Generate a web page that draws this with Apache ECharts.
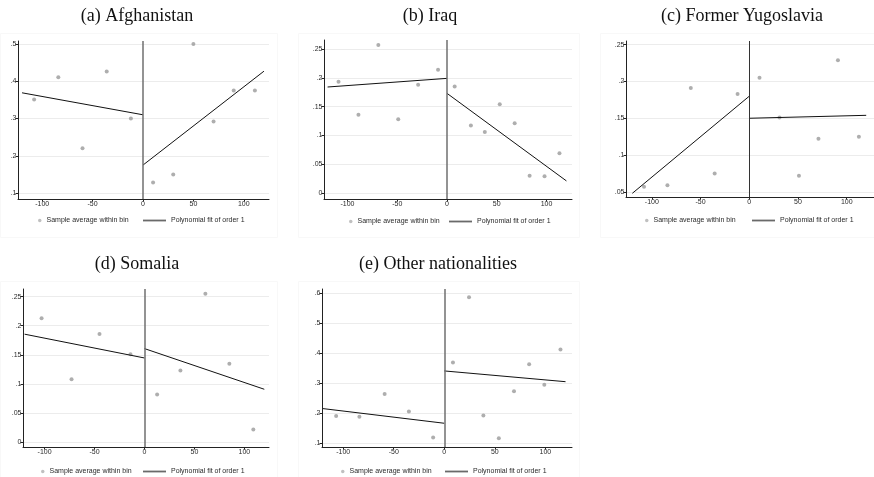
<!DOCTYPE html>
<html>
<head>
<meta charset="utf-8">
<script src="https://cdn.jsdelivr.net/npm/echarts@6/dist/echarts.min.js"></script>
<style>
html, body { margin: 0; padding: 0; background: #fff; }
#chart { width: 874px; height: 477px; }
</style>
</head>
<body>
<div id="chart"></div>
<script>
// ---- data ----
// bin midpoints (days from cutoff) and sample averages within each bin
const afghanX = [-108, -84, -60, -36, -12, 10, 30, 50, 70, 90, 111];
const afghanY = [0.351, 0.411, 0.220, 0.426, 0.300, 0.128, 0.150, 0.500, 0.292, 0.375, 0.375];
const iraqX = [-109, -89, -69, -49, -29, -9, 7.7, 24, 38, 53, 68, 83, 98, 113];
const iraqY = [0.193, 0.136, 0.257, 0.128, 0.188, 0.214, 0.185, 0.117, 0.106, 0.154, 0.121, 0.030, 0.029, 0.069];
const yugoX = [-108, -84, -60, -35.5, -12, 10.5, 31, 51, 71, 91, 112.5];
const yugoY = [0.057, 0.059, 0.191, 0.075, 0.183, 0.205, 0.151, 0.072, 0.122, 0.229, 0.125];
const somaliaX = [-103, -73, -45, -14, 12.7, 36, 61, 85, 109];
const somaliaY = [0.213, 0.108, 0.186, 0.151, 0.082, 0.123, 0.255, 0.135, 0.022];
const otherX = [-107, -84, -59, -35, -11, 8.6, 24.5, 38.7, 54, 69, 84, 99, 115];
const otherY = [0.190, 0.188, 0.264, 0.205, 0.118, 0.369, 0.587, 0.192, 0.116, 0.273, 0.363, 0.295, 0.413];

// linear fits: value at the ends of each side
const fitLeftX = [-120, 0];
const fitRightX = [0, 120];
const afghanFitL = [0.369, 0.310];
const afghanFitR = [0.175, 0.427];
const iraqFitL = [0.184, 0.199];
const iraqFitR = [0.173, 0.021];
const yugoFitL = [0.048, 0.180];
const yugoFitR = [0.150, 0.154];
const somaliaFitL = [0.1855, 0.1447];
const somaliaFitR = [0.1608, 0.091];
const otherFitL = [0.215, 0.166];
const otherFitR = [0.341, 0.305];

// ticks
const xTicks = [-100, -50, 0, 50, 100];
const yTicksAfghan = [0.1, 0.2, 0.3, 0.4, 0.5];
const yTicksIraq = [0, 0.05, 0.1, 0.15, 0.2, 0.25];
const yTicksYugo = [0.05, 0.1, 0.15, 0.2, 0.25];
const yTicksSomalia = [0, 0.05, 0.1, 0.15, 0.2, 0.25];
const yTicksOther = [0.1, 0.2, 0.3, 0.4, 0.5, 0.6];

const titles = ['(a) Afghanistan', '(b) Iraq', '(c) Former Yugoslavia', '(d) Somalia', '(e) Other nationalities'];
const dotName = 'Sample average within bin';
const fitName = 'Polynomial fit of order 1';

// ---- layout (pixels) ----
const panels = [
  { x: afghanX, y: afghanY, fl: afghanFitL, fr: afghanFitR, yt: yTicksAfghan,
    grid: [18, 41, 251, 158], xr: [-124, 125], yr: [0.084, 0.508],
    title: [137, 16], leg: [38, 143, 217], vcol: '#6f6f6f', vw: 1.5 },
  { x: iraqX, y: iraqY, fl: iraqFitL, fr: iraqFitR, yt: yTicksIraq,
    grid: [324, 40, 248, 159], xr: [-123.6, 125.6], yr: [-0.0104, 0.2656],
    title: [430, 16], leg: [349, 449, 218], vcol: '#6f6f6f', vw: 1.5 },
  { x: yugoX, y: yugoY, fl: yugoFitL, fr: yugoFitR, yt: yTicksYugo,
    grid: [626, 41, 248, 156], xr: [-126.5, 128], yr: [0.043, 0.255],
    title: [742, 16], leg: [645, 752, 217], vcol: '#333', vw: 1 },
  { x: somaliaX, y: somaliaY, fl: somaliaFitL, fr: somaliaFitR, yt: yTicksSomalia,
    grid: [23, 289, 246, 158], xr: [-121.6, 124.7], yr: [-0.008, 0.263],
    title: [137, 264], leg: [41, 143, 468], vcol: '#6f6f6f', vw: 1.5 },
  { x: otherX, y: otherY, fl: otherFitL, fr: otherFitR, yt: yTicksOther,
    grid: [322, 289, 250, 158], xr: [-121, 126.4], yr: [0.0866, 0.615],
    title: [438, 264], leg: [341, 445, 468], vcol: '#6f6f6f', vw: 1.5 }
];

function fmtTick(v) {
  if (v === 0) return '0';
  return String(+v.toFixed(2)).replace(/^0\./, '.').replace(/^-0\./, '-.');
}

const labelFont = { fontFamily: 'Liberation Sans, Arial, sans-serif', fontSize: 7, color: '#2a2a2a' };

const grid = [], xAxis = [], yAxis = [], series = [], legend = [], graphic = [];

panels.forEach((p, i) => {
  grid.push({
    left: p.grid[0], top: p.grid[1], width: p.grid[2], height: p.grid[3],
    containLabel: false, outerBoundsMode: 'none'
  });
  xAxis.push({
    type: 'value', gridIndex: i, min: p.xr[0], max: p.xr[1],
    axisLine: { show: true, onZero: false, lineStyle: { color: '#222', width: 1 } },
    axisTick: { show: true, length: 2.5, customValues: xTicks, lineStyle: { color: '#222' } },
    axisLabel: { customValues: xTicks, margin: 2, formatter: fmtTick, ...labelFont },
    splitLine: { show: false }
  });
  yAxis.push({
    type: 'value', gridIndex: i, min: p.yr[0], max: p.yr[1],
    axisLine: { show: true, onZero: false, lineStyle: { color: '#222', width: 1 } },
    axisTick: { show: true, length: 2.5, customValues: p.yt, lineStyle: { color: '#222' } },
    axisLabel: { customValues: p.yt, margin: 1.5, formatter: fmtTick, ...labelFont },
    splitLine: { show: true, lineStyle: { color: '#ececec', width: 1 } }
  });

  series.push({
    name: dotName, type: 'scatter', xAxisIndex: i, yAxisIndex: i,
    data: p.x.map((v, k) => [v, p.y[k]]),
    symbol: 'circle', symbolSize: 4,
    itemStyle: { color: '#9a9a9a' }, z: 2
  });
  series.push({
    name: fitName, type: 'line', xAxisIndex: i, yAxisIndex: i,
    data: fitLeftX.map((v, k) => [v, p.fl[k]]),
    symbol: 'none', lineStyle: { color: '#111', width: 1 }, itemStyle: { color: '#6a6a6a' }, z: 3,
    markLine: {
      silent: true, symbol: 'none', label: { show: false },
      lineStyle: { color: p.vcol, width: p.vw, type: 'solid' },
      data: [{ xAxis: 0 }]
    }
  });
  series.push({
    name: fitName, type: 'line', xAxisIndex: i, yAxisIndex: i,
    data: fitRightX.map((v, k) => [v, p.fr[k]]),
    symbol: 'none', lineStyle: { color: '#111', width: 1 }, itemStyle: { color: '#6a6a6a' }, z: 3
  });

  legend.push({
    data: [{ name: dotName, icon: 'circle' }], left: p.leg[0], top: p.leg[2], selectedMode: false,
    itemWidth: 3.5, itemHeight: 3.5, padding: 0,
    itemStyle: { color: '#b0b0b0' },
    textStyle: { ...labelFont }
  });
  legend.push({
    data: [{ name: fitName, icon: 'rect' }], left: p.leg[1], top: p.leg[2], selectedMode: false,
    itemWidth: 23, itemHeight: 1.8, padding: 0,
    itemStyle: { color: '#6a6a6a', borderWidth: 0 },
    textStyle: { ...labelFont }
  });

  graphic.push({
    type: 'text', x: p.title[0], y: p.title[1],
    style: {
      text: titles[i], textAlign: 'center', textVerticalAlign: 'middle',
      font: '18px "Liberation Serif", "DejaVu Serif", serif', fill: '#111'
    }
  });
});

// faint outlines of the graph regions
[[0, 33, 277, 204], [298, 33, 281, 204], [600, 33, 274, 204], [0, 281, 277, 196], [298, 281, 281, 196]]
  .forEach(r => graphic.push({
    type: 'rect', shape: { x: r[0] + 0.5, y: r[1] + 0.5, width: r[2], height: r[3] },
    style: { fill: 'none', stroke: '#f8f8f8', lineWidth: 1 }, z: -10
  }));

const chart = echarts.init(document.getElementById('chart'), null, { renderer: 'canvas' });
chart.setOption({
  backgroundColor: '#fff',
  animation: false,
  grid, xAxis, yAxis, series, legend, graphic
});
</script>
</body>
</html>
